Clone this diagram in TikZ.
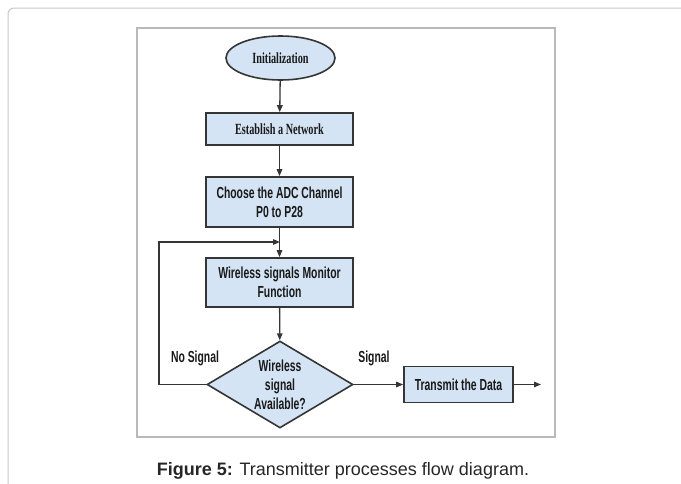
\documentclass[tikz,border=0pt]{standalone}
\usepackage{fontspec}
\setmainfont{Liberation Sans}
\newfontfamily\boxsans[FakeStretch=0.65]{Liberation Sans}
\newfontfamily\boxserif[FakeStretch=0.66]{Liberation Serif}
\usetikzlibrary{arrows.meta, shapes.geometric}
\definecolor{boxfill}{HTML}{D4E4F4}
\definecolor{boxline}{HTML}{353535}

\begin{document}
\begin{tikzpicture}[x=1pt, y=-1pt,
	flowbox/.style={draw=boxline, line width=1.6pt, fill=boxfill, minimum width=147pt, inner sep=0pt, align=center, text=black!90, font=\boxsans\bfseries\fontsize{16}{19}\selectfont},
	serifbox/.style={flowbox, font=\boxserif\bfseries\fontsize{15.5}{18}\selectfont},
	startbox/.style={serifbox, ellipse, minimum width=109pt, minimum height=44pt},
	decision/.style={flowbox, diamond, aspect=1.68, minimum width=146pt, minimum height=87pt},
	branchlabel/.style={text=black!90, inner sep=0pt, font=\boxsans\bfseries\fontsize{16}{19}\selectfont},
	flowarrow/.style={draw=boxline, line width=1.3pt, -{Triangle[length=7pt,width=5.5pt]}}]
	
	% PAGE AND FRAME
	\useasboundingbox (0,0) rectangle (681,483);
	\clip (0,0) rectangle (681,483);
	\draw[gray!45, line width=1pt, rounded corners=6pt] (8,8) rectangle (700,510);
	\draw[gray!55, line width=1.5pt] (137,28) rectangle (555,437);
	
	% PROCESS STEPS
	\node[startbox] (init) at (280.5,58) {Initialization};
	\node[serifbox, minimum height=32pt] (network) at (279.5,129) {Establish a Network};
	\node[flowbox, minimum height=50pt] (channel) at (279.5,202) {Choose the ADC Channel\\P0 to P28};
	\node[flowbox, minimum height=49pt] (monitor) at (279.5,282.5) {Wireless signals Monitor\\Function};
	\node[decision] (check) at (280,384.5) {Wireless\\signal\\Available?};
	\node[flowbox, minimum width=109pt, minimum height=36pt] (transmit) at (458.5,384.5) {Transmit the Data};
	
	% LOOP AND OUTPUT POINTS
	\coordinate (loop) at (159,242);
	\coordinate (merge) at (280,242);
	\coordinate (out) at (541,384.5);
	
	% CONNECTORS
	\draw[flowarrow] (init) -- (network);
	\draw[flowarrow] (network) -- (channel);
	\draw[flowarrow] (channel) -- (monitor);
	\draw[flowarrow] (monitor) -- (check);
	\draw[flowarrow] (check.east) -- (transmit.west);
	\draw[flowarrow] (transmit.east) -- (out);
	\draw[flowarrow] (check.west) -| (loop) -- (merge);
	
	% BRANCH LABELS
	\node[branchlabel] (nosignal) at (195,358) {No Signal};
	\node[branchlabel] (signal) at (374,358) {Signal};
	
	% CAPTION
	\node[anchor=base, inner sep=0pt, text=black!85, font=\fontsize{18}{22}\selectfont] (caption) at (343,475) {\textbf{Figure 5:} Transmitter processes flow diagram.};
\end{tikzpicture}
\end{document}
